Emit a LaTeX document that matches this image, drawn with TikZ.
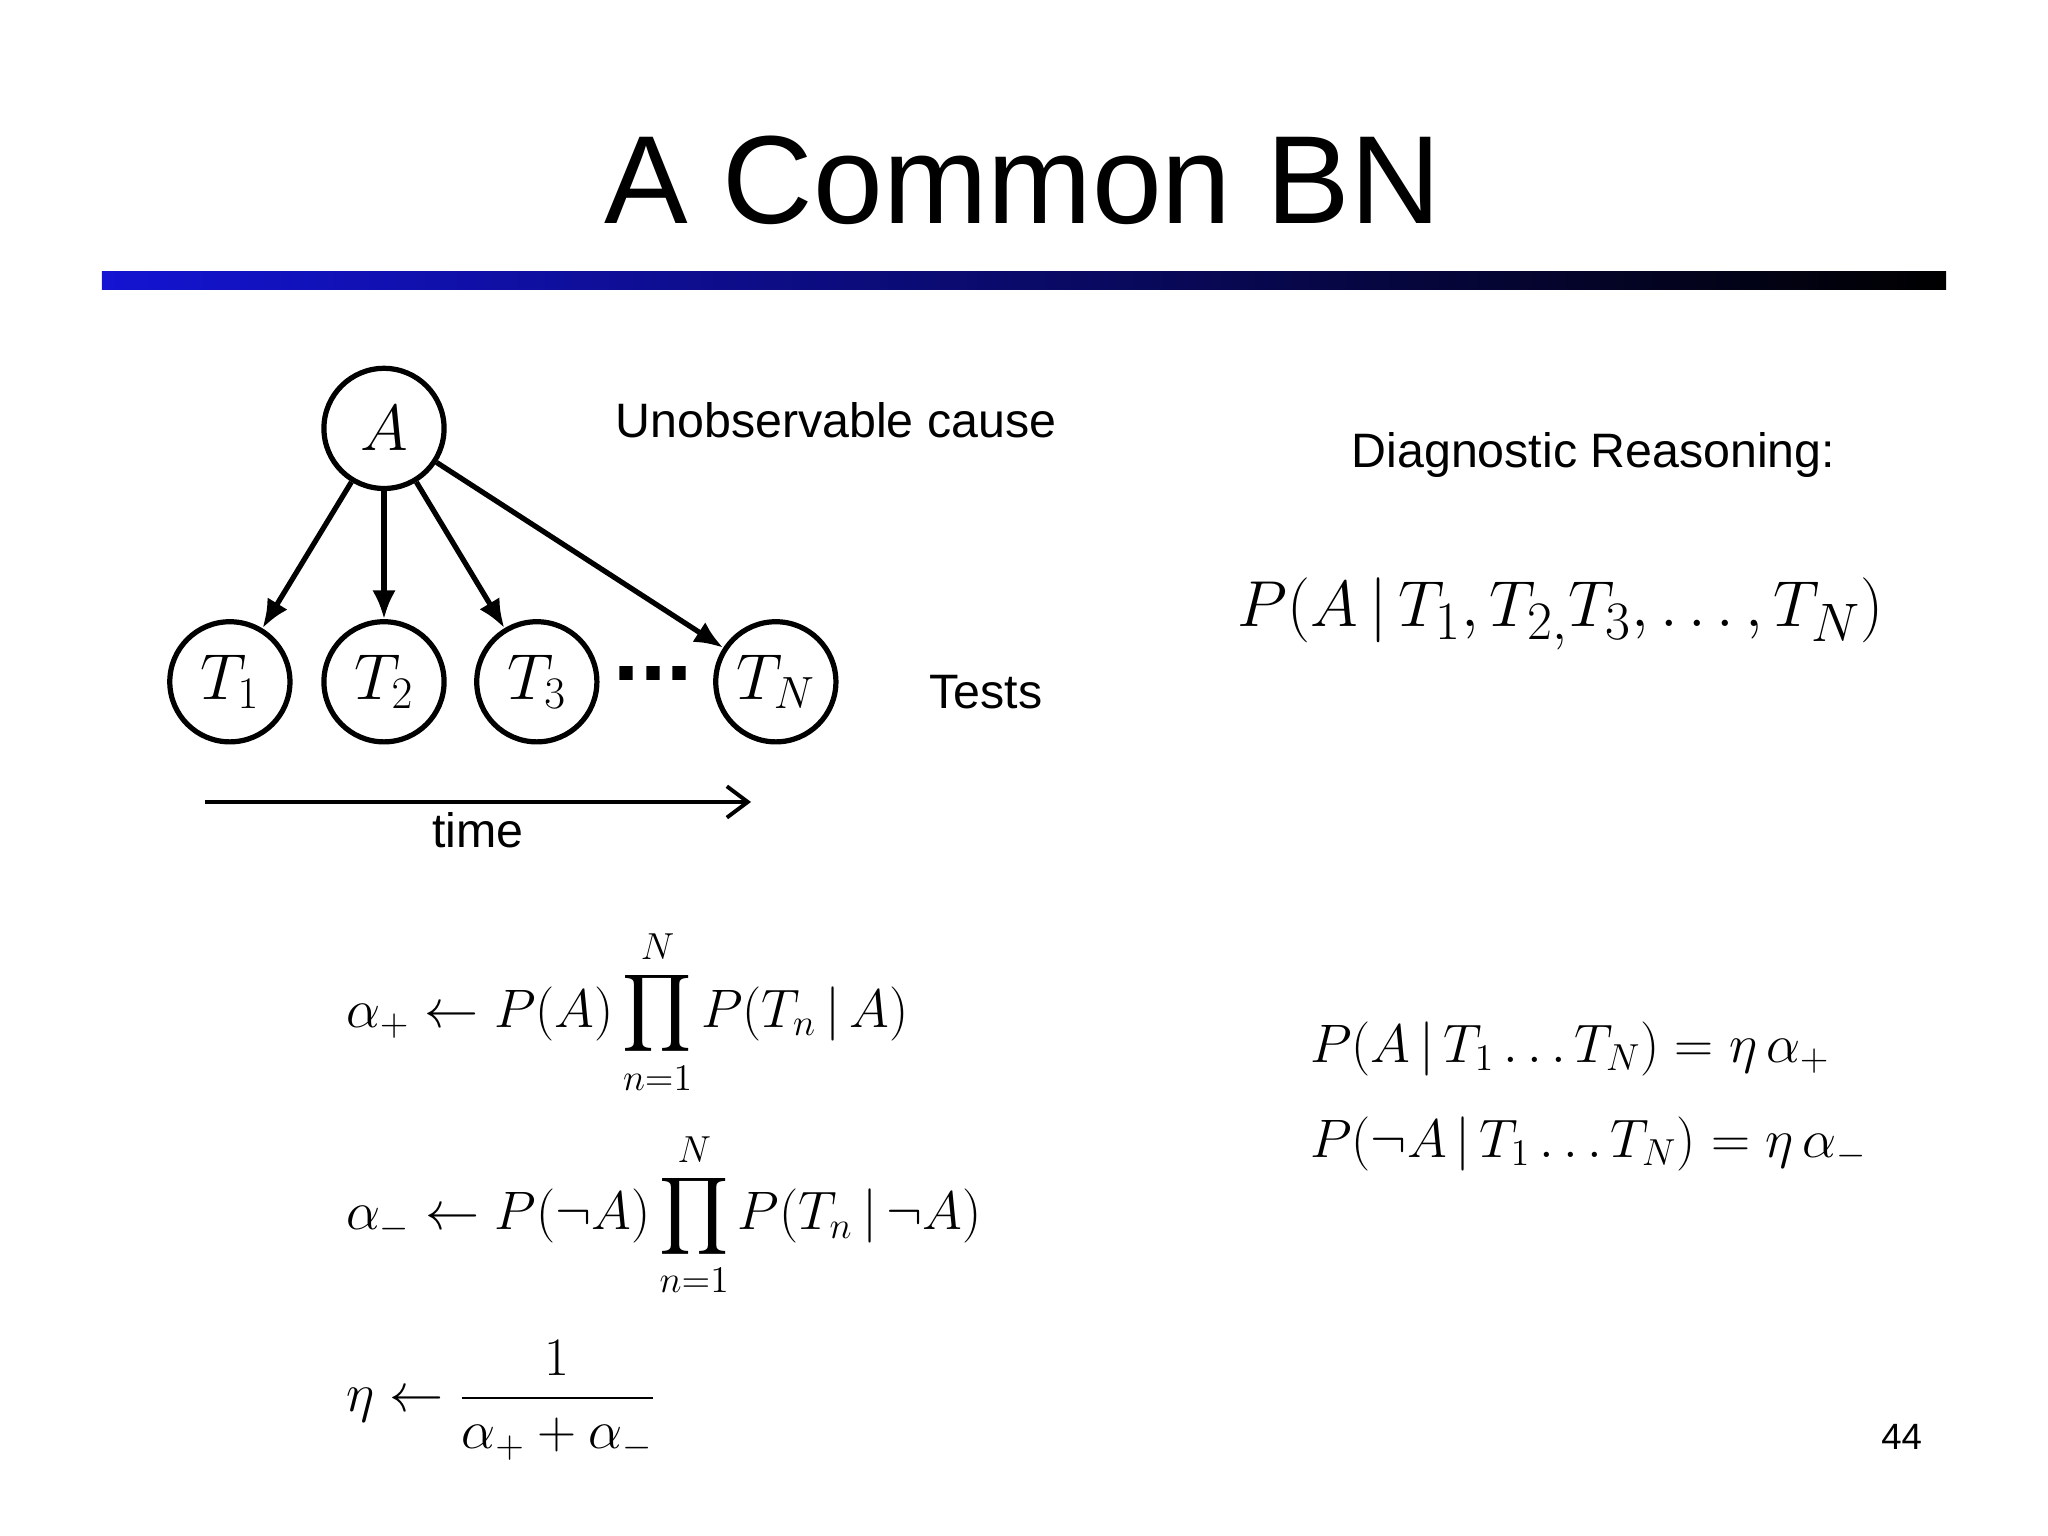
\documentclass[tikz,border=0pt]{standalone}
\usepackage{amsmath}
\usepackage{fontspec}
\setmainfont{Liberation Sans}
\usetikzlibrary{arrows.meta}
\begin{document}
\begin{tikzpicture}[x=0.5pt,y=-0.5pt,
  nd/.style={circle,draw,line width=2pt,minimum size=46pt,inner sep=0pt,font=\fontsize{24}{26}\selectfont},
  arr/.style={line width=2pt,-{Latex[length=11pt,width=9pt]}},
  txt/.style={font=\fontsize{18.5}{20}\selectfont},
  eq/.style={font=\fontsize{21}{24}\selectfont,anchor=west}]
\useasboundingbox (0,0) rectangle (1568,1176);
\node[font=\fontsize{48}{52}\selectfont] (title) at (783,138) {A Common BN};
\shade[left color={rgb,255:red,20;green,20;blue,210}, right color=black] (78,208) rectangle (1490,222);
\node[nd] (A) at (294,328) {$A$};
\node[nd] (T1) at (176,522) {$T_1$};
\node[nd] (T2) at (294,522) {$T_2$};
\node[nd] (T3) at (411,522) {$T_3$};
\node[nd] (TN) at (594,522) {$T_N$};
\node[font=\fontsize{36}{36}\selectfont\bfseries] (dots) at (500,516) {...};
\draw[arr] (A) -- (T1);
\draw[arr] (A) -- (T2);
\draw[arr] (A) -- (T3);
\draw[arr] (A) -- (TN);
\coordinate (t0) at (157,614); \coordinate (t1) at (575,614);
\draw[line width=1.5pt,-{Straight Barb[length=8pt,width=12pt]}] (t0) -- (t1);
\node[txt] (time) at (366,636) {time};
\node[txt] (uc) at (640,322) {Unobservable cause};
\node[txt] (tests) at (755,530) {Tests};
\node[txt] (dr) at (1220,348) {Diagnostic Reasoning:};
\node[font=\fontsize{31}{36}\selectfont] (pa) at (1195,470) {$P(A\,|\,T_1,T_{2,}T_3,\ldots,T_N)$};
\node[eq] (e1) at (258,775) {$\alpha_+ \leftarrow P(A)\displaystyle\prod_{n=1}^{N}P(T_n\,|\,A)$};
\node[eq] (e2) at (258,930) {$\alpha_- \leftarrow P(\neg A)\displaystyle\prod_{n=1}^{N}P(T_n\,|\,{\neg}A)$};
\node[eq] (e3) at (258,1072) {$\eta \leftarrow \dfrac{1}{\alpha_+ + \alpha_-}$};
\node[eq] (e4) at (996,803) {$P(A\,|\,T_1\ldots T_N) = \eta\,\alpha_+$};
\node[eq] (e5) at (996,876) {$P(\neg A\,|\,T_1\ldots T_N) = \eta\,\alpha_-$};
\node[font=\fontsize{14}{16}\selectfont] (pg) at (1456,1100) {44};
\end{tikzpicture}
\end{document}
